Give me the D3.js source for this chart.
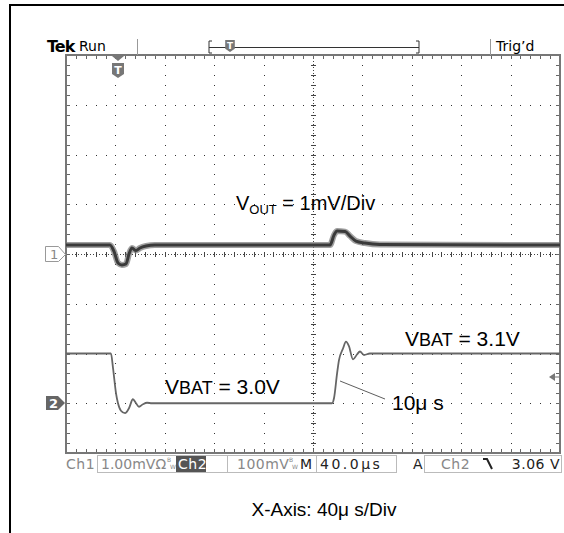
<!DOCTYPE html>
<html>
<head>
<meta charset="utf-8">
<script src="https://cdn.jsdelivr.net/npm/d3@7"></script>
<style>
  body { margin: 0; background: #fff; }
  text { font-family: "DejaVu Sans", sans-serif; }
  .narrow { font-family: "Liberation Sans Narrow", "Liberation Sans", Arial, sans-serif; }
</style>
</head>
<body>
<div id="scope"></div>
<script>
// Ch1: output ripple, time in microseconds from left edge (40us/div), mV
var ch1Time = [0, 35.6, 38.9, 42.1, 45.3, 48.6, 51.0, 53.4, 56.7, 59.9, 64.8, 72, 213.8, 217, 219.5, 226, 230, 234.8, 242, 254, 400];
var ch1mV   = [0.18, 0.18, 0.05, -0.18, -0.22, -0.2, 0.0, 0.12, 0.07, 0.12, 0.16, 0.18, 0.18, 0.38, 0.46, 0.45, 0.36, 0.26, 0.22, 0.19, 0.18];

// Ch2: battery voltage step, volts
var ch2Time = [0, 36.4, 38.1, 40.5, 42.1, 44.5, 47.8, 51.0, 54.2, 56.7, 59.1, 62.3, 65.6, 69.6, 215.4, 217, 219.5, 221, 224.3, 226.7, 229.1, 232.4, 235.6, 238, 241.3, 246.1, 400];
var ch2V    = [3.1, 3.1, 3.07, 3.02, 3.0, 2.985, 2.98, 2.99, 3.008, 3.0, 2.993, 2.998, 3.001, 3.0, 3.0, 3.01, 3.06, 3.086, 3.11, 3.124, 3.115, 3.088, 3.098, 3.104, 3.097, 3.1, 3.1];

// graticule: 10 x 8 divisions
var timeDivs = d3.range(0, 401, 40);
var timeMinor = d3.range(0, 400.1, 8);
var ch1Divs = d3.range(-4, 4.01, 1);
var ch1Minor = d3.range(-4, 4.01, 0.2);

var margin = {top: 55, left: 66, right: 4, bottom: 80},
    width = 564 - margin.left - margin.right,
    height = 533 - margin.top - margin.bottom;

var svg = d3.select("#scope")
            .append("svg")
            .attr("width", 564)
            .attr("height", 533);

// outer frame
svg.append("rect")
   .attr("x", 10).attr("y", 5).attr("width", 600).attr("height", 600)
   .attr("fill", "none").attr("stroke", "#000").attr("stroke-width", 2);

var g = svg.append("g")
           .attr("transform", "translate(" + margin.left + "," + margin.top + ")");

var x = d3.scaleLinear().domain([0, 400]).range([0, width]);
var y1 = d3.scaleLinear().domain([-4, 4]).range([height, 0]);
var y2 = d3.scaleLinear().domain([2.9, 3.7]).range([height, 0]);

// dotted grid lines
timeDivs.slice(1, -1).forEach(function(t) {
    if (t === 200) return;
    g.selectAll(null).data(ch1Minor.slice(1, -1)).enter().append("rect")
     .attr("x", Math.round(x(t))).attr("y", function(v) { return Math.round(y1(v)); })
     .attr("width", 1).attr("height", 1).attr("fill", "#333");
});
ch1Divs.slice(1, -1).forEach(function(v) {
    if (v === 0) return;
    g.selectAll(null).data(timeMinor.slice(1, -1)).enter().append("rect")
     .attr("x", function(t) { return Math.round(x(t)); }).attr("y", Math.round(y1(v)))
     .attr("width", 1).attr("height", 1).attr("fill", "#333");
});

// centre cross with ticks
g.append("line").attr("x1", 0).attr("x2", width).attr("y1", Math.round(y1(0)) + 0.5).attr("y2", Math.round(y1(0)) + 0.5)
 .attr("stroke", "#444").attr("stroke-dasharray", "1,2");
g.append("line").attr("y1", 0).attr("y2", height).attr("x1", Math.round(x(200)) + 0.5).attr("x2", Math.round(x(200)) + 0.5)
 .attr("stroke", "#444").attr("stroke-dasharray", "1,2");
g.selectAll(".tx").data(timeMinor).enter().append("line")
 .attr("x1", function(t) { return Math.round(x(t)) + 0.5; })
 .attr("x2", function(t) { return Math.round(x(t)) + 0.5; })
 .attr("y1", y1(0) - 2).attr("y2", y1(0) + 3).attr("stroke", "#444");
g.selectAll(".ty").data(ch1Minor).enter().append("line")
 .attr("y1", function(v) { return Math.round(y1(v)) + 0.5; })
 .attr("y2", function(v) { return Math.round(y1(v)) + 0.5; })
 .attr("x1", x(200) - 2).attr("x2", x(200) + 3).attr("stroke", "#444");

// edge ticks
g.selectAll(".et").data(timeMinor).enter().append("path")
 .attr("d", function(t) { var px = Math.round(x(t)) + 0.5; return "M" + px + ",0V4M" + px + "," + height + "V" + (height - 4); })
 .attr("stroke", "#666");
g.selectAll(".el").data(ch1Minor).enter().append("path")
 .attr("d", function(v) { var py = Math.round(y1(v)) + 0.5; return "M0," + py + "H4M" + width + "," + py + "H" + (width - 4); })
 .attr("stroke", "#666");

g.append("rect").attr("x", 0).attr("y", 0).attr("width", width).attr("height", height)
 .attr("fill", "none").attr("stroke", "#777").attr("stroke-width", 2);

// traces
var ch1Line = d3.line()
    .x(function(d, i) { return x(ch1Time[i]); })
    .y(function(d) { return y1(d); })
    .curve(d3.curveMonotoneX);
g.append("path").attr("d", ch1Line(ch1mV)).attr("fill", "none")
 .attr("stroke", "#777").attr("stroke-opacity", 0.7).attr("stroke-width", 6);
g.append("path").attr("d", ch1Line(ch1mV)).attr("fill", "none")
 .attr("stroke", "#3a3a3a").attr("stroke-width", 3);

var ch2Line = d3.line()
    .x(function(d, i) { return x(ch2Time[i]); })
    .y(function(d) { return y2(d); })
    .curve(d3.curveMonotoneX);
g.append("path").attr("d", ch2Line(ch2V)).attr("fill", "none")
 .attr("stroke", "#666").attr("stroke-width", 1.8);

// channel markers
var m1 = Math.round(y1(0) + margin.top);
svg.append("path")
   .attr("d", "M45.5," + (m1 - 7.5) + "H58.5L65.5," + (m1 + 0.5) + "L58.5," + (m1 + 7.5) + "H45.5Z")
   .attr("fill", "#fff").attr("stroke", "#999");
svg.append("text").attr("x", 50).attr("y", m1 + 5).attr("font-size", 13).attr("fill", "#888").text("1");
var m2 = Math.round(y2(3.0) + margin.top);
svg.append("path")
   .attr("d", "M46," + (m2 - 7) + "H58L65," + m2 + "L58," + (m2 + 7) + "H46Z")
   .attr("fill", "#666");
svg.append("text").attr("x", 49).attr("y", m2 + 5).attr("font-size", 13).attr("font-weight", "bold").attr("fill", "#fff").text("2");

// trigger level arrow
svg.append("path").attr("d", "M549,377L555,373V381Z").attr("fill", "#777");
svg.append("line").attr("x1", 555).attr("x2", 559).attr("y1", 377).attr("y2", 377).attr("stroke", "#777");

// trigger position marker
function tMark(cx, top, s) {
    svg.append("path")
       .attr("d", "M" + (cx - 6 * s) + "," + top + "H" + (cx + 6 * s) + "V" + (top + 11 * s) +
                  "L" + cx + "," + (top + 15 * s) + "L" + (cx - 6 * s) + "," + (top + 11 * s) + "Z")
       .attr("fill", "#777");
    svg.append("text").attr("x", cx).attr("y", top + 11 * s).attr("text-anchor", "middle")
       .attr("font-size", 11 * s).attr("font-weight", "bold").attr("fill", "#fff").text("T");
}
svg.append("path").attr("d", "M112,56H124L118,61Z").attr("fill", "#777");
tMark(118, 63, 1);

// top status line
svg.append("text").attr("x", 47).attr("y", 52).attr("font-size", 16).attr("font-weight", "bold")
   .attr("font-family", "Liberation Serif").attr("letter-spacing", -1).text("Tek");
svg.append("text").attr("x", 79).attr("y", 51).attr("font-size", 14).text("Run");
svg.append("text").attr("x", 496).attr("y", 51).attr("font-size", 14).text("Trig\u2019d");
svg.append("line").attr("x1", 137.5).attr("x2", 137.5).attr("y1", 39).attr("y2", 55).attr("stroke", "#999");
svg.append("line").attr("x1", 490.5).attr("x2", 490.5).attr("y1", 39).attr("y2", 55).attr("stroke", "#999");
svg.append("path").attr("d", "M212,41H209V53H212M209,47.5H419M416,41H419V53H416")
   .attr("fill", "none").attr("stroke", "#333");
tMark(230, 40, 0.8);

// bottom status line
var sy = 469;
function box(x0, x1) {
    svg.append("rect").attr("x", x0 + 0.5).attr("y", 455.5).attr("width", x1 - x0).attr("height", 17)
       .attr("fill", "none").attr("stroke", "#bbb");
}
function status(px, txt, col, ls) {
    svg.append("text").attr("x", px).attr("y", sy).attr("font-size", 14).attr("fill", col)
       .attr("letter-spacing", ls || 0).text(txt);
}
function bw(px) {
    svg.append("text").attr("x", px).attr("y", sy - 7).attr("font-size", 6).attr("fill", "#888").text("B");
    svg.append("text").attr("x", px + 3).attr("y", sy).attr("font-size", 6).attr("fill", "#888").text("W");
}
box(97, 227); box(227, 316); box(316, 396); box(424, 561);
status(66, "Ch1", "#888", 0.5);
status(101, "1.00mV\u03a9", "#888");
bw(167);
svg.append("rect").attr("x", 176).attr("y", 456).attr("width", 30).attr("height", 16).attr("fill", "#555");
status(178, "Ch2", "#fff", 0.5);
status(237, "100mV", "#888", 0.5);
bw(289);
status(300, "M", "#222");
status(320, "40.0\u03bcs", "#222", 2.5);
status(413, "A", "#222");
status(441, "Ch2", "#888", 0.5);
svg.append("path").attr("d", "M483,459H487L492,469").attr("fill", "none").attr("stroke", "#222").attr("stroke-width", 2);
svg.append("text").attr("x", 560).attr("y", sy).attr("text-anchor", "end").attr("font-size", 14)
   .attr("letter-spacing", 0.5).attr("fill", "#222").text("3.06 V");

// annotations
var ann = svg.append("g").attr("fill", "#000");
var vout = ann.append("text").attr("class", "narrow").attr("x", 236).attr("y", 210).attr("font-size", 20);
vout.append("tspan").text("V");
vout.append("tspan").attr("font-size", 13).attr("dy", 4).text("OUT");
vout.append("tspan").attr("dy", -4).text(" = 1mV/Div");

function vbat(px, py, val) {
    var t = ann.append("text").attr("class", "narrow").attr("x", px).attr("y", py).attr("font-size", 21);
    t.append("tspan").text("V");
    t.append("tspan").attr("font-size", 18).text("BAT");
    t.append("tspan").text(" = " + val);
}
vbat(405, 346, "3.1V");
vbat(165, 394, "3.0V");
ann.append("text").attr("class", "narrow").attr("x", 392).attr("y", 410).attr("font-size", 21).text("10\u03bc s");
g.append("line")
 .attr("x1", x(221.9)).attr("y1", y2(3.0447))
 .attr("x2", x(258.3)).attr("y2", y2(3.0085))
 .attr("stroke", "#333").attr("stroke-width", 0.8);

// x-axis caption
ann.append("text").attr("class", "narrow").attr("x", 324).attr("y", 516).attr("text-anchor", "middle")
   .attr("font-size", 19).text("X-Axis: 40\u03bc s/Div");
</script>
</body>
</html>
